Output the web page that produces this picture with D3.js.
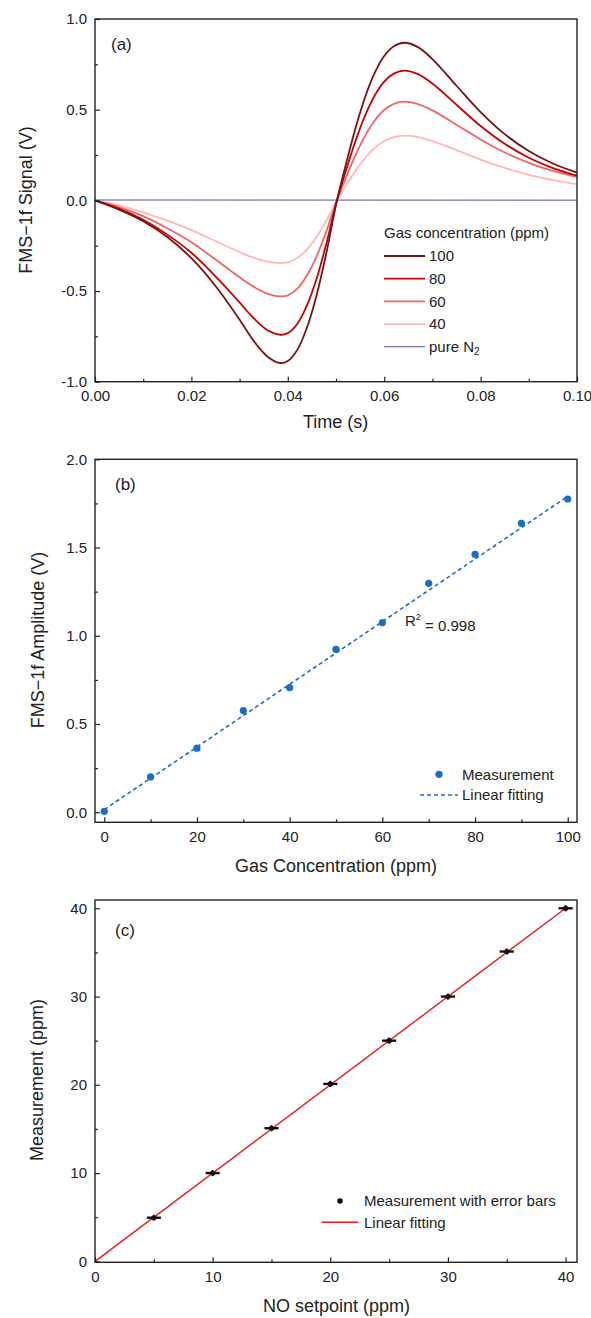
<!DOCTYPE html>
<html>
<head>
<meta charset="utf-8">
<script src="https://cdn.jsdelivr.net/npm/d3@7"></script>
<style>
body{margin:0;background:#fff;}
svg text{font-family:"Liberation Sans",Arial,sans-serif;fill:#222;}
</style>
</head>
<body>
<svg id="chart" width="591" height="1318"></svg>
<script>
// ---- panel (a): FMS-1f signal vs time
var timeS  = [0, .005, .01, .015, .02, .025, .03, .032, .034, .036, .0385, .04, .042, .044, .046, .048, .0502,
              .052, .054, .056, .058, .06, .062, .0642, .067, .07, .075, .08, .085, .09, .095, .1];
var sig100 = [0, -.051, -.115, -.202, -.319, -.472, -.658, -.740, -.812, -.866, -.897, -.886, -.823, -.700, -.520, -.290, 0,
              .193, .394, .566, .701, .796, .850, .869, .845, .779, .632, .487, .365, .272, .203, .153];
var sig80  = [0, -.046, -.107, -.189, -.289, -.419, -.563, -.624, -.678, -.719, -.741, -.732, -.680, -.578, -.430, -.239, 0,
              .159, .324, .465, .577, .655, .699, .715, .696, .644, .527, .410, .312, .235, .178, .136];
var sig60  = [0, -.037, -.087, -.154, -.231, -.326, -.424, -.461, -.493, -.517, -.530, -.524, -.487, -.413, -.307, -.171, 0,
              .121, .246, .354, .439, .498, .532, .544, .531, .496, .417, .336, .264, .207, .162, .128];
var sig40  = [0, -.028, -.066, -.112, -.164, -.225, -.285, -.308, -.326, -.339, -.346, -.342, -.318, -.270, -.201, -.112, 0,
              .079, .162, .232, .288, .327, .349, .357, .349, .327, .277, .225, .179, .141, .112, .089];
var n2Time = [0, .1];
var n2Sig  = [.002, .001];
var concNames  = ["100", "80", "60", "40"];
var concColors = ["#7a1212", "#c80000", "#f46464", "#ffb8b8"];

// ---- panel (b): amplitude vs concentration
var gasConc   = [0, 10, 20, 30, 40, 50, 60, 70, 80, 90, 100];
var amplitude = [0.005, 0.20, 0.363, 0.576, 0.706, 0.923, 1.074, 1.297, 1.462, 1.637, 1.775];
var fitConc   = [0, 100];
var fitAmp    = [0.015, 1.79];

// ---- panel (c): measurement vs setpoint
var setpoint = [5, 10, 15, 20, 25, 30, 35, 40];
var measured = [4.94, 10.0, 15.08, 20.1, 25.0, 30.0, 35.1, 40.0];
var xErr     = [0.6, 0.6, 0.6, 0.6, 0.6, 0.6, 0.6, 0.6];
var yErr     = [0.35, 0.35, 0.35, 0.35, 0.35, 0.35, 0.35, 0.35];
var fitSet   = [0, 40];
var fitMeas  = [0, 40];

var svg = d3.select("#chart");
var L = 95, R = 577;

function fixed(n) { return function(d) { return d.toFixed(n); }; }

function frame(x, y, xMaj, xMin, yMaj, yMin, xFmt, yFmt) {
	var top = y.range()[1], bot = y.range()[0];
	var axes = [
		[d3.axisBottom(x).tickValues(xMaj).tickSize(-5).tickPadding(9).tickFormat(xFmt), "translate(0," + bot + ")"],
		[d3.axisBottom(x).tickValues(xMin).tickSize(-3).tickFormat(""), "translate(0," + bot + ")"],
		[d3.axisLeft(y).tickValues(yMaj).tickSize(-5).tickPadding(8).tickFormat(yFmt), "translate(" + L + ",0)"],
		[d3.axisLeft(y).tickValues(yMin).tickSize(-3).tickFormat(""), "translate(" + L + ",0)"]
	];
	axes.forEach(function(a) {
		var g = svg.append("g").attr("transform", a[1]).call(a[0].tickSizeOuter(0));
		g.select(".domain").remove();
		g.style("color", "#222").attr("font-size", 15).attr("font-family", null);
		g.selectAll("line").attr("stroke-width", 1.2);
	});
	svg.append("rect")
		.attr("x", L).attr("y", top)
		.attr("width", R - L).attr("height", bot - top)
		.attr("fill", "none").attr("stroke", "#222").attr("stroke-width", 1.4);
}

function label(txt, x, y, size, rot) {
	var t = svg.append("text").attr("font-size", size).attr("dy", "0.35em").text(txt);
	if (rot) t.attr("text-anchor", "middle").attr("transform", "translate(" + x + "," + y + ") rotate(-90)");
	else t.attr("x", x).attr("y", y);
	return t;
}

// ================= (a)
var xa = d3.scaleLinear().domain([0, 0.1]).range([L, R]);
var ya = d3.scaleLinear().domain([-1, 1]).range([381.7, 19]);
var lineA = d3.line().curve(d3.curveCatmullRom.alpha(0.5));
var sigs = [sig100, sig80, sig60, sig40];

svg.append("path")
	.attr("d", lineA(n2Time.map(function(t, i) { return [xa(t), ya(n2Sig[i])]; })))
	.attr("fill", "none").attr("stroke", "#5050b0").attr("stroke-width", 1);
for (var k = sigs.length - 1; k >= 0; k--) {
	svg.append("path")
		.attr("d", lineA(timeS.map(function(t, i) { return [xa(t), ya(sigs[k][i])]; })))
		.attr("fill", "none").attr("stroke", concColors[k]).attr("stroke-width", 1.8);
}
frame(xa, ya, [0, .02, .04, .06, .08, .1], [.01, .03, .05, .07, .09],
	[-1, -.5, 0, .5, 1], [-.75, -.25, .25, .75], fixed(2), fixed(1));

label("(a)", 111, 44, 17);
label("Time (s)", 303, 422, 18);
label("FMS\u22121f Signal (V)", 26, 200, 18, true);

label("Gas concentration (ppm)", 384, 233, 15);
concNames.forEach(function(n, i) {
	var yy = 256 + i * 22.7;
	svg.append("line").attr("x1", 384).attr("x2", 425).attr("y1", yy).attr("y2", yy)
		.attr("stroke", concColors[i]).attr("stroke-width", 1.8);
	label(n, 429, yy, 15);
});
svg.append("line").attr("x1", 384).attr("x2", 425).attr("y1", 346.7).attr("y2", 346.7)
	.attr("stroke", "#5050b0").attr("stroke-width", 1);
var n2 = label("pure N", 429, 346.7, 15);
n2.append("tspan").attr("font-size", 10).attr("dy", "0.35em").text("2");

// ================= (b)
var xb = d3.scaleLinear().domain([-2, 102]).range([L, R]);
var yb = d3.scaleLinear().domain([-0.057, 2.0]).range([822.3, 459.3]);
svg.append("line")
	.attr("x1", xb(fitConc[0])).attr("y1", yb(fitAmp[0]))
	.attr("x2", xb(fitConc[1])).attr("y2", yb(fitAmp[1]))
	.attr("stroke", "#1a6fc4").attr("stroke-width", 1.6).attr("stroke-dasharray", "4,3");
svg.selectAll(".ptb").data(gasConc).enter().append("circle")
	.attr("class", "ptb")
	.attr("cx", function(d) { return xb(d); })
	.attr("cy", function(d, i) { return yb(amplitude[i]); })
	.attr("r", 3.6).attr("fill", "#1a6fc4");
frame(xb, yb, [0, 20, 40, 60, 80, 100], [10, 30, 50, 70, 90],
	[0, .5, 1, 1.5, 2], [.25, .75, 1.25, 1.75], fixed(0), fixed(1));

label("(b)", 115, 484, 17);
var r2 = label("R", 405, 621, 15);
r2.append("tspan").attr("font-size", 9).attr("dy", "-0.75em").text("2");
r2.append("tspan").attr("dy", "0.75em").text(" = 0.998");
label("Gas Concentration (ppm)", 235, 866, 18);
label("FMS\u22121f Amplitude (V)", 38, 640, 18, true);

svg.append("circle").attr("cx", 439).attr("cy", 774.3).attr("r", 3.6).attr("fill", "#1a6fc4");
label("Measurement", 462, 774.3, 15);
svg.append("line").attr("x1", 420).attr("x2", 458).attr("y1", 795).attr("y2", 795)
	.attr("stroke", "#1a6fc4").attr("stroke-width", 1.6).attr("stroke-dasharray", "4,3");
label("Linear fitting", 462, 795, 15);

// ================= (c)
var xc = d3.scaleLinear().domain([0, 40.97]).range([L, R]);
var yc = d3.scaleLinear().domain([-0.11, 40.94]).range([1262.3, 900]);
svg.append("line")
	.attr("x1", xc(fitSet[0])).attr("y1", yc(fitMeas[0]))
	.attr("x2", xc(fitSet[1])).attr("y2", yc(fitMeas[1]))
	.attr("stroke", "#f01818").attr("stroke-width", 1.4);
var pc = svg.selectAll(".ptc").data(setpoint).enter().append("g").attr("class", "ptc");
pc.append("line")
	.attr("x1", function(d, i) { return xc(d - xErr[i]); })
	.attr("x2", function(d, i) { return xc(d + xErr[i]); })
	.attr("y1", function(d, i) { return yc(measured[i]); })
	.attr("y2", function(d, i) { return yc(measured[i]); })
	.attr("stroke", "#111").attr("stroke-width", 2.4);
pc.append("line")
	.attr("x1", function(d) { return xc(d); })
	.attr("x2", function(d) { return xc(d); })
	.attr("y1", function(d, i) { return yc(measured[i] - yErr[i]); })
	.attr("y2", function(d, i) { return yc(measured[i] + yErr[i]); })
	.attr("stroke", "#111").attr("stroke-width", 1.6);
pc.append("circle")
	.attr("cx", function(d) { return xc(d); })
	.attr("cy", function(d, i) { return yc(measured[i]); })
	.attr("r", 2.6).attr("fill", "#111");
frame(xc, yc, [0, 10, 20, 30, 40], [5, 15, 25, 35],
	[0, 10, 20, 30, 40], [5, 15, 25, 35], fixed(0), fixed(0));

label("(c)", 115, 930, 17);
label("NO setpoint (ppm)", 263, 1306, 18);
label("Measurement (ppm)", 37, 1080, 18, true);

svg.append("circle").attr("cx", 340).attr("cy", 1201).attr("r", 2.8).attr("fill", "#111");
label("Measurement with error bars", 364, 1201, 15);
svg.append("line").attr("x1", 321.7).attr("x2", 358.3).attr("y1", 1222.3).attr("y2", 1222.3)
	.attr("stroke", "#f01818").attr("stroke-width", 1.4);
label("Linear fitting", 364, 1222.3, 15);
</script>
</body>
</html>
